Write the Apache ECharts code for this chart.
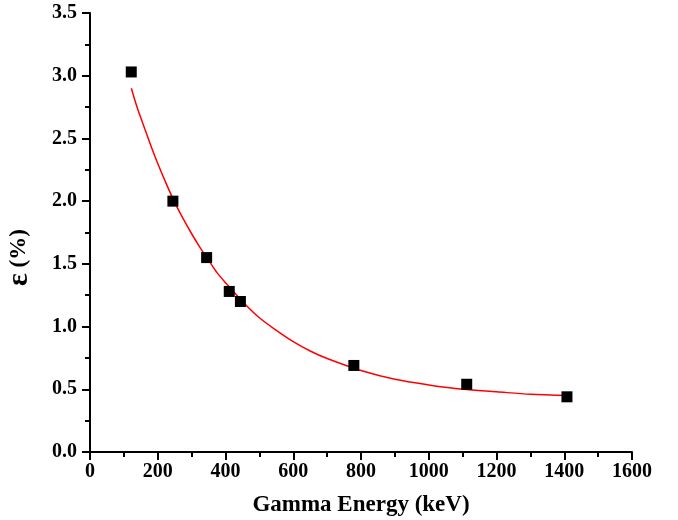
<!DOCTYPE html>
<html>
<head>
<meta charset="utf-8">
<script src="https://cdn.jsdelivr.net/npm/echarts@6/dist/echarts.min.js"></script>
<style>
  html, body { margin: 0; padding: 0; background: #fff; }
  #chart { width: 678px; height: 520px; }
</style>
</head>
<body>
<div id="chart"></div>
<script>
// measured points (keV, efficiency %)
const energies = [121.8, 244.7, 344.3, 411.1, 444.0, 778.9, 1112.1, 1408.0];
const efficiency = [3.03, 2.00, 1.55, 1.28, 1.20, 0.69, 0.54, 0.44];

// fitted curve
const fitX = [122, 140, 160, 180, 200, 225, 250, 275, 300, 325, 350, 375, 400, 450, 500, 550, 600, 650, 700, 800, 900, 1000, 1100, 1200, 1300, 1408];
const fitY = [2.90, 2.74, 2.59, 2.44, 2.30, 2.14, 1.99, 1.86, 1.74, 1.63, 1.53, 1.43, 1.35, 1.20, 1.07, 0.97, 0.88, 0.805, 0.745, 0.65, 0.58, 0.535, 0.50, 0.48, 0.46, 0.45];

const chart = echarts.init(document.getElementById('chart'));
const font = 'Liberation Serif';

const axisCommon = {
    axisLine: { show: true, onZero: false, lineStyle: { color: '#000', width: 2 } },
    axisTick: { show: true, inside: false, length: 8, lineStyle: { color: '#000', width: 2 } },
    minorTick: { show: true, splitNumber: 2, length: 5, lineStyle: { color: '#000', width: 2 } },
    splitLine: { show: false },
    axisLabel: { color: '#000', fontFamily: font, fontWeight: 'bold', fontSize: 20 },
    nameTextStyle: { color: '#000', fontFamily: font, fontWeight: 'bold', fontSize: 23 }
};

const option = {
    animation: false,
    grid: { left: 90, right: 46, top: 13, bottom: 68, containLabel: false, outerBoundsMode: 'none' },
    xAxis: Object.assign({}, axisCommon, {
        type: 'value',
        min: 0, max: 1600, interval: 200,
        name: 'Gamma Energy (keV)',
        nameLocation: 'middle',
        nameGap: 42,
        axisLabel: Object.assign({}, axisCommon.axisLabel, { margin: 10, formatter: v => String(v) })
    }),
    yAxis: Object.assign({}, axisCommon, {
        type: 'value',
        min: 0, max: 3.5, interval: 0.5,
        name: '{e|ε} (%)',
        nameLocation: 'middle',
        nameGap: 56,
        nameTextStyle: Object.assign({}, axisCommon.nameTextStyle, {
            padding: [0, 50, 0, 0],
            rich: { e: { fontFamily: font, fontWeight: 'bold', fontSize: 30, color: '#000' } }
        }),
        axisLabel: Object.assign({}, axisCommon.axisLabel, {
            margin: 13,
            formatter: v => v.toFixed(1)
        })
    }),
    series: [
        {
            type: 'line',
            data: fitX.map((x, i) => [x, fitY[i]]),
            smooth: 0.3,
            showSymbol: false,
            lineStyle: { color: '#ff0000', width: 1.5 },
            z: 2
        },
        {
            type: 'scatter',
            data: energies.map((x, i) => [x, efficiency[i]]),
            symbol: 'rect',
            symbolSize: 11,
            itemStyle: { color: '#000', opacity: 1 },
            z: 3
        }
    ]
};

chart.setOption(option);
window.addEventListener('resize', _ => chart.resize());
</script>
</body>
</html>
